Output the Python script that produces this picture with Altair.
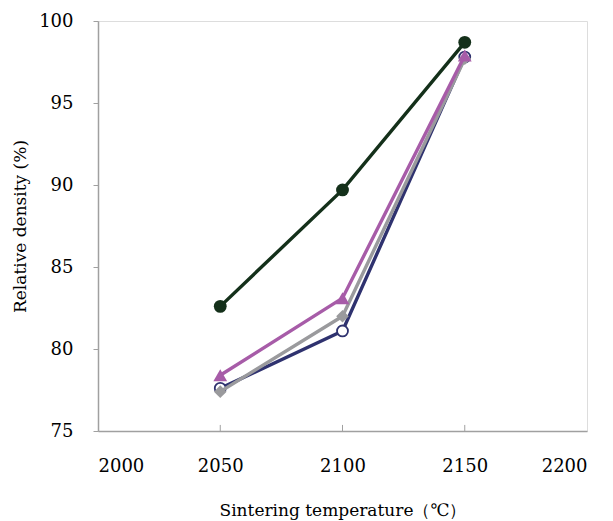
import altair as alt
import pandas as pd

temps = [2050, 2100, 2150]
s_green = [82.6, 89.7, 98.7]
s_purple = [78.4, 83.1, 97.9]
s_gray = [77.4, 82.0, 97.7]
s_navy = [77.6, 81.1, 97.8]
x_ticks = [2000, 2050, 2100, 2150, 2200]
y_ticks = [75, 80, 85, 90, 95, 100]
inner_ticks = [2050, 2100, 2150]

FONT = "DejaVu Serif"
AXC = "#a0a0a0"

x_axis = alt.Axis(values=x_ticks, title="Sintering temperature（℃）", ticks=False,
                  grid=False, labelPadding=26, titlePadding=27, format="d",
                  domainColor=AXC, domainWidth=1.5,
                  labelFont=FONT, titleFont=FONT, labelFontSize=18, titleFontSize=17,
                  labelColor="black", titleColor="black", titleFontWeight="normal")
y_axis = alt.Axis(values=y_ticks, title="Relative  density (%)", tickSize=5,
                  tickColor=AXC, grid=False, labelPadding=20, titlePadding=9,
                  domainColor=AXC, domainWidth=1.5,
                  labelFont=FONT, titleFont=FONT, labelFontSize=18, titleFontSize=17,
                  labelColor="black", titleColor="black", titleFontWeight="normal")
x_scale = alt.Scale(domain=[2000, 2200], nice=False, zero=False)
y_scale = alt.Scale(domain=[75, 100], nice=False, zero=False)

def series(vals, color, shape, fill, size, stroke_w=0):
    df = pd.DataFrame({"t": temps, "v": vals})
    base = alt.Chart(df).encode(x=alt.X("t:Q", scale=x_scale, axis=x_axis),
                                y=alt.Y("v:Q", scale=y_scale, axis=y_axis))
    line = base.mark_line(color=color, strokeWidth=3.4)
    pt = base.mark_point(shape=shape, filled=True, fill=fill, color=color, stroke=color,
                         strokeWidth=stroke_w, size=size, opacity=1)
    return line + pt

navy = series(s_navy, "#2f326f", "circle", "white", 120, 1.8)
gray = series(s_gray, "#9a9a9d", "diamond", "#9a9a9d", 160)
purple = series(s_purple, "#a75ca8", "triangle-up", "#a75ca8", 190)
green = series(s_green, "#14301a", "circle", "#14301a", 165)

tick_df = pd.DataFrame({"t": inner_ticks})
ticks = alt.Chart(tick_df).mark_rule(color=AXC, strokeWidth=1).encode(
    x=alt.X("t:Q", scale=x_scale, axis=x_axis), y=alt.datum(75), y2=alt.datum(75.37))

chart = alt.layer(ticks, navy, gray, purple, green).properties(
    width=489, height=410,
    autosize=alt.AutoSizeParams(type="none"),
    padding={"left": 98, "top": 21, "right": 26, "bottom": 90},
).configure_view(stroke=AXC, strokeWidth=1.5).configure(font=FONT)

chart.save("out.html", embed_options={"renderer": "svg", "actions": False})
